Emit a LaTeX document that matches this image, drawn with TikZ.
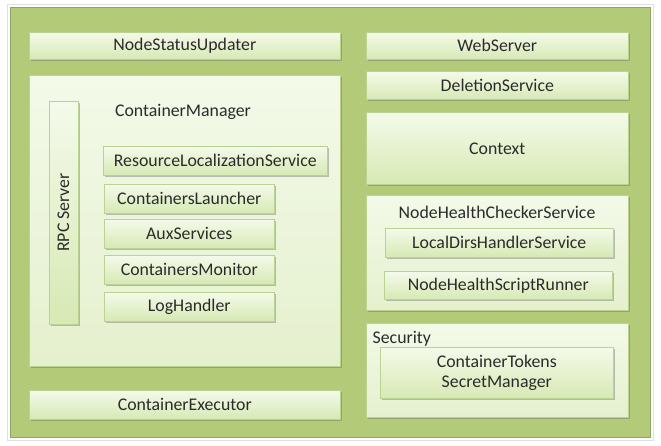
\documentclass[tikz,border=0pt]{standalone}
\usepackage{fontspec}
\setmainfont{Carlito}
\usetikzlibrary{shadows}
\definecolor{outerg}{HTML}{B3CB79}
\definecolor{outerb}{HTML}{8FA860}
\definecolor{boxtop}{HTML}{F4FAEA}
\definecolor{boxbot}{HTML}{D7E9B4}
\definecolor{boxline}{HTML}{BCD293}
\definecolor{paletop}{HTML}{F3FAE9}
\definecolor{palebot}{HTML}{E5F0CE}
\definecolor{txt}{HTML}{2B2B2B}
\tikzset{
  boxed/.style={draw=boxline, line width=0.6pt, top color=boxtop, bottom color=boxbot,
    drop shadow={shadow xshift=1.2pt, shadow yshift=-1.8pt, opacity=0.4, fill=black!60},
    anchor=north west, inner sep=0pt, align=center, text=txt,
    font=\fontsize{17.8}{19.5}\selectfont},
  palebox/.style={boxed, top color=paletop, bottom color=palebot},
  lbl/.style={text=txt, inner sep=0pt, font=\fontsize{17.8}{19.5}\selectfont}
}
\begin{document}
\begin{tikzpicture}[x=1pt,y=-1pt]
\useasboundingbox (0,0) rectangle (661,445);
\fill[white] (0,0) rectangle (661,445);
% outer frame
\node[draw=black!12, line width=0.8pt, inner sep=0pt, minimum width=646pt, minimum height=436pt, anchor=north west] (frame) at (7,4) {};
\node[draw=outerb, line width=0.6pt, fill=outerg, inner sep=0pt, minimum width=640pt, minimum height=430pt, anchor=north west] (outer) at (10,7) {};
% left column
\node[boxed, minimum width=311pt, minimum height=27pt] (nsu) at (29,32) {NodeStatusUpdater};
\node[palebox, minimum width=311pt, minimum height=291pt] (cm) at (29,75) {};
\node[lbl] (cmlbl) at (183,112) {ContainerManager};
\node[boxed, minimum width=29pt, minimum height=223pt] (rpc) at (49,101) {};
\node[lbl, rotate=90] (rpclbl) at (63.5,212.5) {RPC Server};
\node[boxed, minimum width=224pt, minimum height=29pt] (rls) at (103,146) {ResourceLocalizationService};
\node[boxed, minimum width=170pt, minimum height=29pt] (cl) at (104,184) {ContainersLauncher};
\node[boxed, minimum width=170pt, minimum height=29pt] (aux) at (104,219) {AuxServices};
\node[boxed, minimum width=170pt, minimum height=29pt] (cmon) at (104,255) {ContainersMonitor};
\node[boxed, minimum width=170pt, minimum height=29pt] (log) at (104,292) {LogHandler};
\node[boxed, minimum width=311pt, minimum height=29pt] (ce) at (29,390) {ContainerExecutor};
% right column
\node[boxed, minimum width=262pt, minimum height=27pt] (ws) at (366,32) {WebServer};
\node[boxed, minimum width=262pt, minimum height=28pt] (ds) at (366,71) {DeletionService};
\node[boxed, minimum width=262pt, minimum height=72pt] (ctx) at (366,112) {Context};
\node[palebox, minimum width=262pt, minimum height=115pt] (nhc) at (366,195) {};
\node[lbl] (nhclbl) at (497,212) {NodeHealthCheckerService};
\node[boxed, minimum width=228pt, minimum height=29pt] (ldh) at (385,228) {LocalDirsHandlerService};
\node[boxed, minimum width=228pt, minimum height=28pt] (nhs) at (384,271) {NodeHealthScriptRunner};
\node[palebox, minimum width=262pt, minimum height=94pt] (sec) at (366,323) {};
\node[boxed, minimum width=233pt, minimum height=51pt] (ctsm) at (380,347) {ContainerTokens\\SecretManager};
\node[lbl, anchor=west] (seclbl) at (372.5,339) {Security};
\end{tikzpicture}
\end{document}
